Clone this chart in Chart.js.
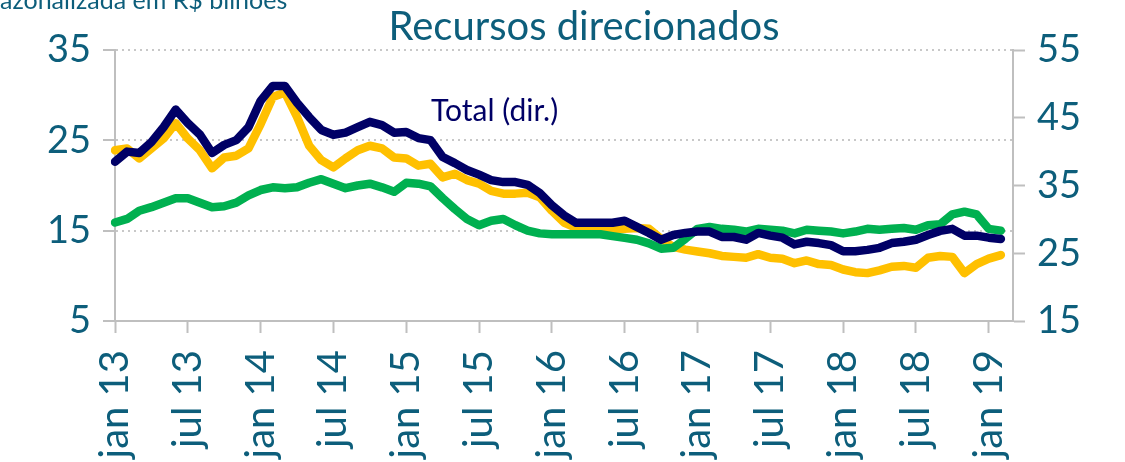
<!DOCTYPE html>
<html>
<head>
<meta charset="utf-8">
<script src="https://cdn.jsdelivr.net/npm/chart.js@4.4.0/dist/chart.umd.min.js"></script>
<style>
  html, body { margin: 0; padding: 0; background: #fff; }
  #wrap { width: 1125px; height: 462px; position: relative; }
</style>
</head>
<body>
<div id="wrap"><canvas id="chart"></canvas></div>
<script>
// categories: monthly, jan 13 .. mar 19 (last slot empty)
const months = [
  'jan 13','fev 13','mar 13','abr 13','mai 13','jun 13','jul 13','ago 13','set 13','out 13','nov 13','dez 13',
  'jan 14','fev 14','mar 14','abr 14','mai 14','jun 14','jul 14','ago 14','set 14','out 14','nov 14','dez 14',
  'jan 15','fev 15','mar 15','abr 15','mai 15','jun 15','jul 15','ago 15','set 15','out 15','nov 15','dez 15',
  'jan 16','fev 16','mar 16','abr 16','mai 16','jun 16','jul 16','ago 16','set 16','out 16','nov 16','dez 16',
  'jan 17','fev 17','mar 17','abr 17','mai 17','jun 17','jul 17','ago 17','set 17','out 17','nov 17','dez 17',
  'jan 18','fev 18','mar 18','abr 18','mai 18','jun 18','jul 18','ago 18','set 18','out 18','nov 18','dez 18',
  'jan 19','fev 19','mar 19'
];

// Total (right axis)
const total = [
  38.5, 40.0, 39.8, 41.4, 43.6, 46.2, 44.2, 42.5, 39.8, 41.0, 41.7, 43.6,
  47.5, 49.7, 49.7, 47.2, 45.1, 43.2, 42.5, 42.8, 43.6, 44.4, 43.9, 42.8,
  42.9, 42.0, 41.7, 39.2, 38.3, 37.3, 36.6, 35.8, 35.5, 35.5, 35.1, 33.9,
  32.1, 30.6, 29.5, 29.5, 29.5, 29.5, 29.8, 28.9, 28.0, 27.0, 27.7, 28.0,
  28.2, 28.2, 27.4, 27.4, 27.0, 28.0, 27.6, 27.3, 26.3, 26.7, 26.5, 26.2,
  25.3, 25.3, 25.5, 25.8, 26.5, 26.7, 27.0, 27.7, 28.3, 28.6, 27.6, 27.6,
  27.3, 27.1, null
];

// yellow series (left axis)
const yellowSeries = [
  23.9, 24.1, 23.0, 24.1, 25.2, 26.9, 25.2, 23.9, 21.9, 23.1, 23.3, 24.1,
  26.8, 29.8, 30.3, 27.6, 24.4, 22.8, 22.0, 23.0, 23.9, 24.4, 24.1, 23.1,
  23.0, 22.2, 22.4, 20.9, 21.3, 20.6, 20.2, 19.4, 19.1, 19.1, 19.2, 18.7,
  17.2, 15.9, 15.3, 15.1, 15.0, 15.1, 15.2, 15.3, 15.2, 14.1, 13.2, 12.9,
  12.7, 12.5, 12.2, 12.1, 12.0, 12.4, 12.0, 11.9, 11.4, 11.7, 11.3, 11.2,
  10.7, 10.4, 10.3, 10.6, 11.0, 11.1, 10.9, 12.0, 12.2, 12.1, 10.3, 11.3,
  11.9, 12.3, null
];

// green series (left axis)
const greenSeries = [
  15.9, 16.3, 17.2, 17.6, 18.1, 18.6, 18.6, 18.1, 17.6, 17.7, 18.1, 18.9,
  19.5, 19.8, 19.7, 19.8, 20.3, 20.7, 20.2, 19.7, 20.0, 20.2, 19.8, 19.3,
  20.3, 20.2, 19.9, 18.6, 17.4, 16.3, 15.6, 16.1, 16.3, 15.6, 15.0, 14.7,
  14.6, 14.6, 14.6, 14.6, 14.6, 14.4, 14.2, 14.0, 13.6, 13.0, 13.1, 14.1,
  15.2, 15.4, 15.2, 15.1, 14.9, 15.2, 15.1, 15.0, 14.7, 15.1, 15.0, 14.9,
  14.7, 14.9, 15.2, 15.1, 15.2, 15.3, 15.1, 15.6, 15.7, 16.8, 17.1, 16.8,
  15.2, 15.0, null
];

const leftTicks = [5, 15, 25, 35];
const rightTicks = [15, 25, 35, 45, 55];

const teal = '#0D5E7B';
const navy = '#000066';
const axisGray = '#BFBFBF';

// free texts: title, unit note (cut at the edge) and series label
const textPlugin = {
  id: 'texts',
  afterDraw(chart) {
    const ctx = chart.ctx;
    ctx.save();
    ctx.fillStyle = teal;
    ctx.textBaseline = 'alphabetic';
    ctx.font = '25px Lato';
    ctx.textAlign = 'left';
    ctx.fillText('azonalizada em R$ bilhões', 0, 9);
    ctx.font = '40px Lato';
    ctx.textAlign = 'center';
    ctx.fillText('Recursos direcionados', 584, 40);
    ctx.fillStyle = navy;
    ctx.font = '30px Lato';
    ctx.textAlign = 'left';
    ctx.fillText('Total (dir.)', 431, 121);
    ctx.restore();
  }
};

const lineStyle = {
  borderWidth: 8.5,
  pointRadius: 0,
  tension: 0,
  borderCapStyle: 'round',
  borderJoinStyle: 'round',
  fill: false
};

new Chart(document.getElementById('chart'), {
  type: 'line',
  data: {
    labels: months,
    datasets: [
      { ...lineStyle, label: 'Total (dir.)', data: total, borderColor: navy, yAxisID: 'y1' },
      { ...lineStyle, label: 'verde', data: greenSeries, borderColor: '#00B050', yAxisID: 'y' },
      { ...lineStyle, label: 'amarelo', data: yellowSeries, borderColor: '#FFC000', yAxisID: 'y' }
    ]
  },
  options: {
    responsive: true,
    maintainAspectRatio: false,
    animation: false,
    layout: { padding: { top: 50, left: 0, right: 0, bottom: 0 } },
    plugins: {
      legend: { display: false },
      tooltip: { enabled: false }
    },
    scales: {
      x: {
        offset: false,
        grid: {
          drawOnChartArea: false,
          tickLength: 12,
          tickWidth: 2,
          tickColor: c => (c.index % 6 === 0 ? axisGray : 'rgba(0,0,0,0)')
        },
        border: { color: axisGray, width: 2 },
        ticks: {
          autoSkip: false,
          maxRotation: 90,
          minRotation: 90,
          padding: 17,
          color: teal,
          font: { family: 'Lato', size: 40 },
          callback: function(value, index) {
            return index % 6 === 0 ? this.getLabelForValue(value) : '';
          }
        },
        afterFit: s => { s.height = 141; }
      },
      y: {
        position: 'left',
        min: 5,
        max: 35,
        afterBuildTicks: s => { s.ticks = leftTicks.map(v => ({ value: v })); },
        grid: {
          color: '#C8C8C8',
          lineWidth: 2,
          tickLength: 12,
          tickWidth: 2,
          tickColor: axisGray
        },
        border: { color: axisGray, width: 2, dash: [2, 4] },
        ticks: { padding: 12, color: teal, font: { family: 'Lato', size: 38 } },
        afterFit: s => { s.width = 115; }
      },
      y1: {
        position: 'right',
        min: 15,
        max: 55,
        afterBuildTicks: s => { s.ticks = rightTicks.map(v => ({ value: v })); },
        grid: {
          drawOnChartArea: false,
          tickLength: 12,
          tickWidth: 2,
          tickColor: axisGray
        },
        border: { color: axisGray, width: 2 },
        ticks: { padding: 12, color: teal, font: { family: 'Lato', size: 38 } },
        afterFit: s => { s.width = 112; }
      }
    }
  },
  plugins: [textPlugin]
});
</script>
</body>
</html>
